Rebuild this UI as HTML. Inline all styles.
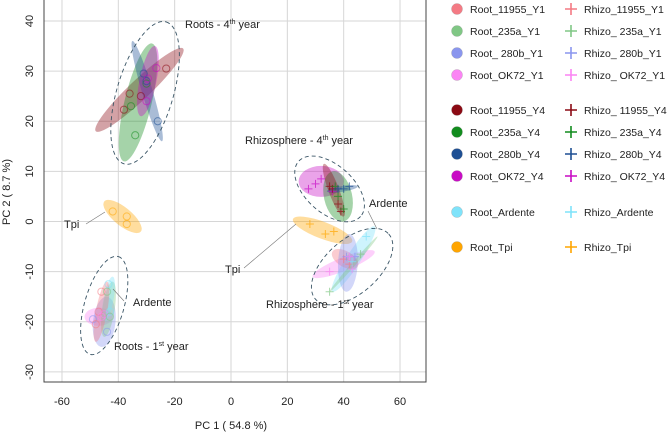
<!DOCTYPE html>
<html><head><meta charset="utf-8"><style>
body{margin:0;background:#fff;font-family:"Liberation Sans",sans-serif}
svg text{font-family:"Liberation Sans",sans-serif;fill:#222}
</style></head><body>
<svg id="chart" width="669" height="432" viewBox="0 0 669 432" xmlns="http://www.w3.org/2000/svg">
<g id="grid"></g><g id="ells"></g><g id="pts"></g><g id="ann"></g><g id="axes"></g><g id="legend"></g>
</svg>
<script>
const xTicks=[-60,-40,-20,0,20,40,60];
const yTicks=[-30,-20,-10,0,10,20,30,40];
const colors={r1:"#f47a84",g1:"#80c785",b1:"#8a96ee",m1:"#fb84f4",r4:"#8b0a14",g4:"#128c1e",b4:"#1e4f93",m4:"#c80cc4",ar:"#7fe3fa",tp:"#ffa500"};
// ellipses: [x1,y1,x2,y2,halfWidth(x-units), colorKey]
const ellipses=[
["-48","18","-17","34.5",3.6,"r4"],["-28","35.5","-38","12",4.8,"g4"],["-35","36","-24.5","16",1.9,"b4"],["-27","35","-32","21",3,"m4"],
["-45","4","-32","-2",3.2,"tp"],
["-52","-19","-42","-19",3.2,"m1"],["-44","-15","-46","-25",4,"b1"],["-42","-12","-45","-23",2.2,"g1"],["-42","-11","-45","-20",1.8,"ar"],["-44","-12","-48","-24",2,"r1"],
["24","8","40","8",5.5,"m4"],["40","0","36","10",5,"g4"],["33","11.5","40","1",1.9,"r4"],["34","6","45","7",1,"b4"],
["22","0.5","43","-4",3,"tp"],
["29","-11","51","-6",2.4,"m1"],["36","-14","51","-1",2.5,"ar"],["36","-6","45","-9",2.8,"r1"],["42","-2.5","41","-14",3.5,"b1"],["35","-14","52","-3",0.7,"g1"]
];
const dashed=[["-38","11.5","-23","39.8",10],["-50","-26.5","-40","-7",7],["24","12","46","1",8.5],["30","-15.5","56","-2.5",9.5]];
const rootPts=[[-23,30.5,"r4"],[-36,25.5,"r4"],[-32,25,"r4"],[-38,22.3,"r4"],[-34,17.2,"g4"],[-35.5,23,"g4"],[-30,27.5,"g4"],[-31,29.5,"b4"],[-26,20,"b4"],[-30,28,"b4"],[-26.5,30.6,"m4"],[-29.5,28.5,"m4"],[-30,24,"m4"],
[-42,2,"tp"],[-37,1,"tp"],[-37,-0.5,"tp"],
[-43.5,-12.5,"ar"],[-46,-14,"r1"],[-44,-14,"g1"],[-47,-18,"r1"],[-45,-18.5,"m1"],[-43,-18,"ar"],[-43,-19,"g1"],[-49,-19.5,"b1"],[-48,-20.5,"r1"],[-44,-22,"b1"],[-46,-19,"m1"]];
const rhizoPts=[[27.5,6.5,"m4"],[30,7.5,"m4"],[32,8.5,"m4"],[36,6,"m4"],[35,7,"r4"],[36,6.5,"r4"],[38,3.5,"r4"],[39,2,"r4"],[40,2.5,"g4"],[38,5,"g4"],[37,7,"g4"],[40,6.5,"b4"],[42,7,"b4"],[38,6.5,"b4"],
[28,-0.5,"tp"],[33.5,-2.5,"tp"],[36.5,-2,"tp"],
[35,-14,"g1"],[35,-10,"m1"],[40,-7.5,"r1"],[42,-8.5,"r1"],[43,-9.5,"m1"],[41,-7,"b1"],[44,-7,"b1"],[46,-6.5,"g1"],[48,-3,"ar"],[42,-7,"m1"],[43,-8,"ar"]];
const legRoot=[["Root_11955_Y1","r1"],["Root_235a_Y1","g1"],["Root_ 280b_Y1","b1"],["Root_OK72_Y1","m1"],["Root_11955_Y4","r4"],["Root_235a_Y4","g4"],["Root_280b_Y4","b4"],["Root_OK72_Y4","m4"],["Root_Ardente","ar"],["Root_Tpi","tp"]];
const legRhizo=[["Rhizo_11955_Y1","r1"],["Rhizo_ 235a_Y1","g1"],["Rhizo_ 280b_Y1","b1"],["Rhizo_ OK72_Y1","m1"],["Rhizo_ 11955_Y4","r4"],["Rhizo_ 235a_Y4","g4"],["Rhizo_ 280b_Y4","b4"],["Rhizo_ OK72_Y4","m4"],["Rhizo_Ardente","ar"],["Rhizo_Tpi","tp"]];
const legRows=[9,31,53,75,110,132,154,176,212,247];

const NS="http://www.w3.org/2000/svg";
const X=v=>231+v*2.817, Y=v=>221.5-v*5.014;
function mk(t,a,p){const e=document.createElementNS(NS,t);for(const k in a)e.setAttribute(k,a[k]);p.appendChild(e);return e;}
const G=id=>document.getElementById(id);
xTicks.forEach(t=>{const l=mk("line",{x1:X(t),x2:X(t),y1:0,y2:382,stroke:"#d6d6d6"},G("grid"));


const tx=mk("text",{x:X(t),y:405,"font-size":11,"text-anchor":"middle"},G("axes"));tx.textContent=t;

});
yTicks.forEach(t=>{const l=mk("line",{x1:44,x2:426,y1:Y(t),y2:Y(t),stroke:"#d6d6d6"},G("grid"));


const tx=mk("text",{x:0,y:0,"font-size":11,"text-anchor":"middle",transform:`translate(33,${Y(t)}) rotate(-90)`},G("axes"));tx.textContent=t;

});
const fr=mk("path",{d:"M44,0V382H426V0",fill:"none",stroke:"#444"},G("axes"));


const xt=mk("text",{x:231,y:429,"font-size":11,"text-anchor":"middle"},G("axes"));xt.textContent="PC 1 ( 54.8 %)";


const yt=mk("text",{x:0,y:0,"font-size":11,"text-anchor":"middle",transform:"translate(10,192) rotate(-90)"},G("axes"));yt.textContent="PC 2 ( 8.7 %)";



function ell(d,attrs){const x1=X(+d[0]),y1=Y(+d[1]),x2=X(+d[2]),y2=Y(+d[3]);
const cx=(x1+x2)/2,cy=(y1+y2)/2,len=Math.hypot(x2-x1,y2-y1)/2,ang=Math.atan2(y2-y1,x2-x1)*180/Math.PI;
return Object.assign({cx,cy,rx:len,ry:d[4]*2.817,transform:`rotate(${ang} ${cx} ${cy})`},attrs);}
ellipses.forEach(d=>{const e=mk("ellipse",ell(d,{fill:colors[d[5]],"fill-opacity":0.38}),G("ells"));

});
dashed.forEach(d=>{const e=mk("ellipse",ell(d,{fill:"none",stroke:"#3a5566","stroke-dasharray":"4,3","stroke-width":0.9}),G("ells"));

});
rootPts.forEach(p=>{const c=mk("circle",{cx:X(p[0]),cy:Y(p[1]),r:3.6,fill:"none",stroke:colors[p[2]],"stroke-opacity":0.55},G("pts"));

});
rhizoPts.forEach(p=>{const x=X(p[0]),y=Y(p[1]);const c=mk("path",{d:`M${x-4},${y}H${x+4}M${x},${y-4}V${y+4}`,stroke:colors[p[2]],"stroke-opacity":0.7,"stroke-width":1},G("pts"));

});
const labels=[["Roots - 4","th"," year",185,28],["Rhizosphere - 4","th"," year",245,144],["Rhizosphere - 1","st"," year",266,308],["Roots - 1","st"," year",114,350],["Ardente","","",133,306],["Ardente","","",369,207],["Tpi","","",64,228],["Tpi","","",225,273]];
labels.forEach(l=>{const t=mk("text",{x:l[3],y:l[4],"font-size":11},G("ann"));t.textContent=l[0];
if(l[1]){const s=mk("tspan",{"font-size":7,dy:-4},t);s.textContent=l[1];const s2=mk("tspan",{dy:4},t);s2.textContent=l[2];}

});
[[86,224,105,212],[244,268,296,224],[113,289,124,301],[368,211,377,229]].forEach(s=>{const l=mk("line",{x1:s[0],y1:s[1],x2:s[2],y2:s[3],stroke:"#777","stroke-width":0.6},G("ann"));

});
legRoot.forEach((d,i)=>{const y=legRows[i];
const c=mk("circle",{cx:457,cy:y,r:5.5,fill:colors[d[1]],stroke:"#999","stroke-width":0.3},G("legend"));


const t=mk("text",{x:470,y:y+4,"font-size":10.5},G("legend"));t.textContent=d[0];

});
legRhizo.forEach((d,i)=>{const y=legRows[i];
const c=mk("path",{d:`M565,${y}H577M571,${y-6}V${y+6}`,stroke:colors[d[1]],"stroke-width":1.6},G("legend"));


const t=mk("text",{x:584,y:y+4,"font-size":10.5},G("legend"));t.textContent=d[0];

});
</script>
</body></html>
